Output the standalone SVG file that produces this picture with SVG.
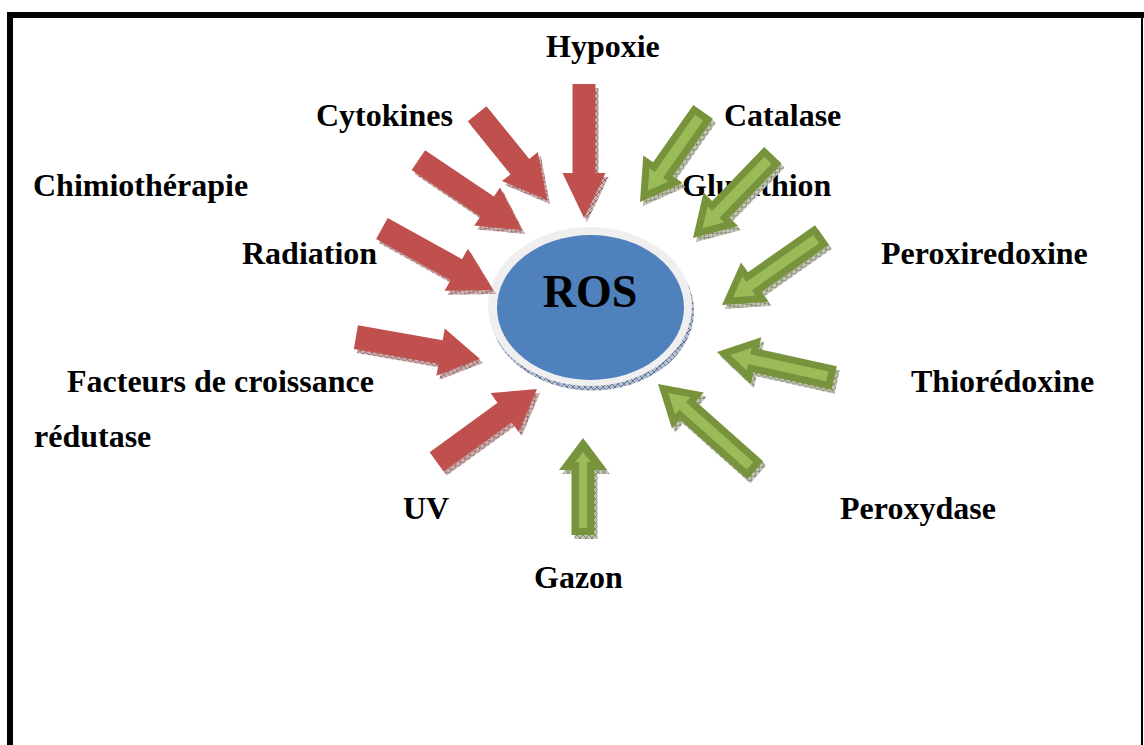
<svg xmlns="http://www.w3.org/2000/svg" width="1144" height="745" viewBox="0 0 1144 745">
<style>
.lbl{font-family:"Liberation Serif","Times New Roman",serif;font-weight:bold;font-size:32px;fill:#000}
.ros{font-family:"Liberation Serif","Times New Roman",serif;font-weight:bold;font-size:46px;fill:#000}
.red{fill:#C0504D}
.gout{fill:#77933C}
.gin{fill:#9BBB59}
.shr{fill:url(#hatchR)}
.shg{fill:url(#hatchG)}
</style>
<defs>
<pattern id="hatchR" width="6" height="6" patternUnits="userSpaceOnUse">
<rect width="6" height="6" fill="#cfb0b0"/>
<path d="M0,0L6,6M6,0L0,6" stroke="#7d5252" stroke-width="0.7"/>
</pattern>
<pattern id="hatchG" width="6" height="6" patternUnits="userSpaceOnUse">
<rect width="6" height="6" fill="#c2c5b2"/>
<path d="M0,0L6,6M6,0L0,6" stroke="#6a6d5a" stroke-width="0.7"/>
</pattern>
<pattern id="hatchB" width="6" height="6" patternUnits="userSpaceOnUse">
<rect width="6" height="6" fill="#b4c0d2"/>
<path d="M0,0L6,6M6,0L0,6" stroke="#45557a" stroke-width="0.7"/>
</pattern>
</defs>
<rect width="1144" height="745" fill="#fff"/>
<g id="frame">
<rect x="7" y="12" width="1137" height="6" fill="#000"/>
<rect x="7" y="12" width="6" height="733" fill="#000"/>
<rect x="1141" y="18" width="2" height="727" fill="#000"/>
</g>

<g id="labels">
<text class="lbl" x="546" y="57">Hypoxie</text>
<text class="lbl" x="316" y="126">Cytokines</text>
<text class="lbl" x="724" y="126">Catalase</text>
<text class="lbl" x="33" y="196">Chimiothérapie</text>
<text class="lbl" x="682" y="196">Glutathion</text>
<text class="lbl" x="242" y="264">Radiation</text>
<text class="lbl" x="881" y="264">Peroxiredoxine</text>
<text class="lbl" x="67" y="392">Facteurs de croissance</text>
<text class="lbl" x="911" y="392">Thiorédoxine</text>
<text class="lbl" x="34" y="447">rédutase</text>
<text class="lbl" x="403" y="519">UV</text>
<text class="lbl" x="840" y="519">Peroxydase</text>
<text class="lbl" x="534" y="588">Gazon</text>
</g>

<g id="ros">
<ellipse cx="592" cy="311" rx="102" ry="79.5" fill="url(#hatchB)"/>
<ellipse cx="590" cy="306.5" rx="102" ry="79.5" fill="#EFEFEF"/>
<ellipse cx="590.5" cy="307.5" rx="93.5" ry="72.5" fill="#4F81BD"/>
<text class="ros" x="590" y="307" text-anchor="middle">ROS</text>
</g>

<g id="connectors">
<g id="arrow-hypoxie">
<polygon class="shr" transform="translate(587,222) rotate(90)" points="-134,-11.5 -45,-11.5 -45,-21.5 0,0 -45,21.5 -45,11.5 -134,11.5"/>
<polygon class="red" transform="translate(584,218) rotate(90)" points="-134,-11.5 -45,-11.5 -45,-21.5 0,0 -45,21.5 -45,11.5 -134,11.5"/>
</g>
<g id="arrow-cytokines">
<polygon class="shr" transform="translate(550,204) rotate(51)" points="-111,-12 -43,-12 -43,-23 0,0 -43,23 -43,12 -111,12"/>
<polygon class="red" transform="translate(547,200) rotate(51)" points="-111,-12 -43,-12 -43,-23 0,0 -43,23 -43,12 -111,12"/>
</g>
<g id="arrow-chimiotherapie">
<polygon class="shr" transform="translate(525,234) rotate(34)" points="-125,-12 -42,-12 -42,-23 0,0 -42,23 -42,12 -125,12"/>
<polygon class="red" transform="translate(522,230) rotate(34)" points="-125,-12 -42,-12 -42,-23 0,0 -42,23 -42,12 -125,12"/>
</g>
<g id="arrow-radiation">
<polygon class="shr" transform="translate(496,294) rotate(29)" points="-127,-12 -42,-12 -42,-24 0,0 -42,24 -42,12 -127,12"/>
<polygon class="red" transform="translate(493,290) rotate(29)" points="-127,-12 -42,-12 -42,-24 0,0 -42,24 -42,12 -127,12"/>
</g>
<g id="arrow-facteurs">
<polygon class="shr" transform="translate(483,363) rotate(10)" points="-126,-12 -40,-12 -40,-24 0,0 -40,24 -40,12 -126,12"/>
<polygon class="red" transform="translate(480,359) rotate(10)" points="-126,-12 -40,-12 -40,-24 0,0 -40,24 -40,12 -126,12"/>
</g>
<g id="arrow-uv">
<polygon class="shr" transform="translate(540,393) rotate(-36)" points="-124,-12 -40,-12 -40,-24 0,0 -40,24 -40,12 -124,12"/>
<polygon class="red" transform="translate(537,389) rotate(-36)" points="-124,-12 -40,-12 -40,-24 0,0 -40,24 -40,12 -124,12"/>
</g>

<g id="arrow-catalase">
<polygon class="shg" transform="translate(643,206) rotate(125)" points="-110,-12 -40,-12 -40,-24 0,0 -40,24 -40,12 -110,12"/>
<g transform="translate(640,202) rotate(125)">
<polygon class="gout" points="-110,-12 -40,-12 -40,-24 0,0 -40,24 -40,12 -110,12"/>
<polygon class="gin" points="-103,-5 -33,-5 -33,-11.6 -13.6,0 -33,11.6 -33,5 -103,5"/>
</g>
</g>
<g id="arrow-glutathion">
<polygon class="shg" transform="translate(696,242) rotate(134)" points="-115,-12 -40,-12 -40,-24 0,0 -40,24 -40,12 -115,12"/>
<g transform="translate(693,238) rotate(134)">
<polygon class="gout" points="-115,-12 -40,-12 -40,-24 0,0 -40,24 -40,12 -115,12"/>
<polygon class="gin" points="-108,-5 -33,-5 -33,-11.6 -13.6,0 -33,11.6 -33,5 -108,5"/>
</g>
</g>
<g id="arrow-peroxiredoxine">
<polygon class="shg" transform="translate(725,309) rotate(145)" points="-122,-12 -40,-12 -40,-24 0,0 -40,24 -40,12 -122,12"/>
<g transform="translate(722,305) rotate(145)">
<polygon class="gout" points="-122,-12 -40,-12 -40,-24 0,0 -40,24 -40,12 -122,12"/>
<polygon class="gin" points="-115,-5 -33,-5 -33,-11.6 -13.6,0 -33,11.6 -33,5 -115,5"/>
</g>
</g>
<g id="arrow-thioredoxine">
<polygon class="shg" transform="translate(720,356) rotate(192.5)" points="-120,-12 -40,-12 -40,-24 0,0 -40,24 -40,12 -120,12"/>
<g transform="translate(717,352) rotate(192.5)">
<polygon class="gout" points="-120,-12 -40,-12 -40,-24 0,0 -40,24 -40,12 -120,12"/>
<polygon class="gin" points="-113,-5 -33,-5 -33,-11.6 -13.6,0 -33,11.6 -33,5 -113,5"/>
</g>
</g>
<g id="arrow-peroxydase">
<polygon class="shg" transform="translate(661,388) rotate(221.6)" points="-130,-12 -40,-12 -40,-24 0,0 -40,24 -40,12 -130,12"/>
<g transform="translate(658,384) rotate(221.6)">
<polygon class="gout" points="-130,-12 -40,-12 -40,-24 0,0 -40,24 -40,12 -130,12"/>
<polygon class="gin" points="-123,-5 -33,-5 -33,-11.6 -13.6,0 -33,11.6 -33,5 -123,5"/>
</g>
</g>
<g id="arrow-gazon">
<polygon class="shg" transform="translate(586,442) rotate(-90)" points="-97,-11.5 -32,-11.5 -32,-24 0,0 -32,24 -32,11.5 -97,11.5"/>
<g transform="translate(583,438) rotate(-90)">
<polygon class="gout" points="-97,-11.5 -32,-11.5 -32,-24 0,0 -32,24 -32,11.5 -97,11.5"/>
<polygon class="gin" points="-90,-4 -24,-4 -24,-8 -14,0 -24,8 -24,4 -90,4"/>
</g>
</g>
</g>
</svg>
